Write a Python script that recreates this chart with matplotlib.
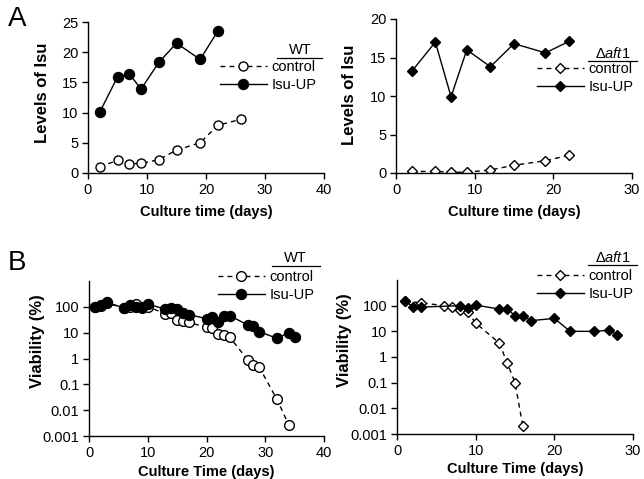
import matplotlib
matplotlib.use('Agg')
import matplotlib.pyplot as plt
from matplotlib.lines import Line2D
from matplotlib.ticker import FixedLocator, FixedFormatter, NullLocator

plt.rcParams['font.family'] = ['Liberation Sans', 'DejaVu Sans']
plt.rcParams['mathtext.fontset'] = 'custom'
plt.rcParams['mathtext.rm'] = 'Liberation Sans'
plt.rcParams['mathtext.it'] = 'Liberation Sans:italic'

# --- panel A, WT: Isu levels
wt_isu_days = [2, 5, 7, 9, 12, 15, 19, 22, 26]
wt_isu_ctrl = [1.0, 2.1, 1.5, 1.6, 2.2, 3.8, 5.0, 7.9, 8.9]
wt_isu_up_days = [2, 5, 7, 9, 12, 15, 19, 22]
wt_isu_up = [10.1, 15.9, 16.4, 13.9, 18.3, 21.5, 18.8, 23.5]

# --- panel A, aft1 deletion: Isu levels
aft_isu_days = [2, 5, 7, 9, 12, 15, 19, 22]
aft_isu_ctrl = [0.2, 0.2, 0.1, 0.1, 0.4, 1.0, 1.6, 2.3]
aft_isu_up = [13.2, 17.0, 9.9, 16.0, 13.8, 16.8, 15.6, 17.1]

# --- panel B, WT: viability (%)
wt_via_ctrl_days = [1, 2, 3, 6, 7, 8, 9, 10, 13, 14, 15, 16, 17, 20, 21, 22, 23, 24, 27, 28, 29, 32, 34]
wt_via_ctrl = [100, 110, 140, 90, 100, 130, 90, 100, 55, 60, 30, 28, 25, 16, 15, 9, 8, 6.5, 0.9, 0.55, 0.45, 0.026, 0.0027]
wt_via_up_days = [1, 2, 3, 6, 7, 8, 9, 10, 13, 14, 15, 16, 17, 20, 21, 22, 23, 24, 27, 28, 29, 32, 34, 35]
wt_via_up = [100, 120, 150, 90, 120, 100, 100, 130, 80, 90, 80, 60, 50, 35, 40, 25, 45, 45, 20, 18, 11, 6, 10, 7]

# --- panel B, aft1 deletion: viability (%)
aft_via_ctrl_days = [1, 3, 6, 7, 8, 9, 10, 13, 14, 15, 16]
aft_via_ctrl = [150, 130, 100, 88, 68, 55, 21, 3.5, 0.6, 0.1, 0.002]
aft_via_up_days = [1, 2, 3, 8, 9, 10, 13, 14, 15, 16, 17, 20, 22, 25, 27, 28]
aft_via_up = [155, 92, 88, 100, 80, 105, 74, 74, 41, 41, 26, 32, 10, 10, 11, 7.3]

log_ticks = [0.001, 0.01, 0.1, 1, 10, 100]
log_labels = ['0.001', '0.01', '0.1', '1', '10', '100']

W, H = 644, 479
fig = plt.figure(figsize=(W / 100, H / 100), dpi=100)


def px_box(l, t, r, b):
    return [l / W, 1 - b / H, (r - l) / W, (b - t) / H]


def style(ax):
    ax.spines['top'].set_visible(False)
    ax.spines['right'].set_visible(False)
    for s in ('left', 'bottom'):
        ax.spines[s].set_linewidth(1.0)
    ax.tick_params(direction='out', length=4, width=1.0, labelsize=10.5, pad=3)


def add_legend(ax, handles, title, hx, hy, tx, ty, ux0, ux1, uy):
    ax.legend(handles, ['control', 'Isu-UP'], loc='upper left',
              bbox_to_anchor=(hx / W, 1 - hy / H), bbox_transform=fig.transFigure,
              frameon=False, fontsize=10.5, handlelength=3.2, handletextpad=0.35,
              labelspacing=0.3, borderpad=0, borderaxespad=0, numpoints=1)
    fig.text(tx / W, 1 - ty / H, title, ha='center', va='center', fontsize=10.5)
    fig.add_artist(Line2D([ux0 / W, ux1 / W], [1 - uy / H, 1 - uy / H],
                          color='black', lw=0.9, transform=fig.transFigure))


ctrl_kw = dict(color='black', lw=1.0, dashes=(3.5, 3), markerfacecolor='white',
               markeredgecolor='black', markeredgewidth=1.0)
up_kw = dict(color='black', lw=1.0, markerfacecolor='black', markeredgecolor='black')
ylab_kw = dict(fontsize=12, fontweight='bold')
xlab_kw = dict(fontsize=10.5, fontweight='bold')

# ---------------- A left
ax1 = fig.add_axes(px_box(88, 22, 324, 173))
h1c, = ax1.plot(wt_isu_days, wt_isu_ctrl, marker='o', ms=6.5, **ctrl_kw)
h1u, = ax1.plot(wt_isu_up_days, wt_isu_up, marker='o', ms=7.2, **up_kw)
ax1.set_xlim(0, 40)
ax1.set_ylim(0, 25)
ax1.set_xticks([0, 10, 20, 30, 40])
ax1.set_yticks([0, 5, 10, 15, 20, 25])
style(ax1)
ax1.set_xlabel('Culture time (days)', **xlab_kw)
ax1.set_ylabel('Levels of Isu', **ylab_kw)
ax1.xaxis.set_label_coords(0.5, -0.21)
ax1.yaxis.set_label_coords(-0.161, 0.53)
add_legend(ax1, [h1c, h1u], 'WT', 220, 60, 300, 50, 277, 322, 58)

# ---------------- A right
ax2 = fig.add_axes(px_box(396, 19, 632, 173))
h2c, = ax2.plot(aft_isu_days, aft_isu_ctrl, marker='D', ms=5.5, **ctrl_kw)
h2u, = ax2.plot(aft_isu_days, aft_isu_up, marker='D', ms=5.5, **up_kw)
ax2.set_xlim(0, 30)
ax2.set_ylim(0, 20)
ax2.set_xticks([0, 10, 20, 30])
ax2.set_yticks([0, 5, 10, 15, 20])
style(ax2)
ax2.set_xlabel('Culture time (days)', **xlab_kw)
ax2.set_ylabel('Levels of Isu', **ylab_kw)
ax2.xaxis.set_label_coords(0.5, -0.21)
ax2.yaxis.set_label_coords(-0.165, 0.51)
add_legend(ax2, [h2c, h2u], r'$\Delta\mathit{aft1}$', 537, 62, 613, 53, 588, 637, 61)

# ---------------- B left
ax3 = fig.add_axes(px_box(89, 281, 324, 436))
h3c, = ax3.plot(wt_via_ctrl_days, wt_via_ctrl, marker='o', ms=7, **ctrl_kw)
h3u, = ax3.plot(wt_via_up_days, wt_via_up, marker='o', ms=7.2, **up_kw)
ax3.set_yscale('log')
ax3.set_xlim(0, 40)
ax3.set_ylim(0.001, 1000)
ax3.set_xticks([0, 10, 20, 30, 40])
ax3.yaxis.set_major_locator(FixedLocator(log_ticks))
ax3.yaxis.set_major_formatter(FixedFormatter(log_labels))
ax3.yaxis.set_minor_locator(NullLocator())
style(ax3)
ax3.set_xlabel('Culture Time (days)', **xlab_kw)
ax3.set_ylabel('Viability (%)', **ylab_kw)
ax3.xaxis.set_label_coords(0.5, -0.185)
ax3.yaxis.set_label_coords(-0.187, 0.613)
add_legend(ax3, [h3c, h3u], 'WT', 218, 270, 295, 258, 272, 320, 266)

# ---------------- B right
ax4 = fig.add_axes(px_box(397, 280, 633, 434))
h4c, = ax4.plot(aft_via_ctrl_days, aft_via_ctrl, marker='D', ms=5.5, **ctrl_kw)
h4u, = ax4.plot(aft_via_up_days, aft_via_up, marker='D', ms=5.5, **up_kw)
ax4.set_yscale('log')
ax4.set_xlim(0, 30)
ax4.set_ylim(0.001, 1000)
ax4.set_xticks([0, 10, 20, 30])
ax4.yaxis.set_major_locator(FixedLocator(log_ticks))
ax4.yaxis.set_major_formatter(FixedFormatter(log_labels))
ax4.yaxis.set_minor_locator(NullLocator())
style(ax4)
ax4.set_xlabel('Culture Time (days)', **xlab_kw)
ax4.set_ylabel('Viability (%)', **ylab_kw)
ax4.xaxis.set_label_coords(0.5, -0.185)
ax4.yaxis.set_label_coords(-0.19, 0.61)
add_legend(ax4, [h4c, h4u], r'$\Delta\mathit{aft1}$', 537, 269, 613, 257, 588, 637, 265)

fig.text(8 / W, 1 - 19 / H, 'A', fontsize=20, ha='left', va='center')
fig.text(8 / W, 1 - 263 / H, 'B', fontsize=20, ha='left', va='center')

fig.savefig('out.png', dpi=100)
